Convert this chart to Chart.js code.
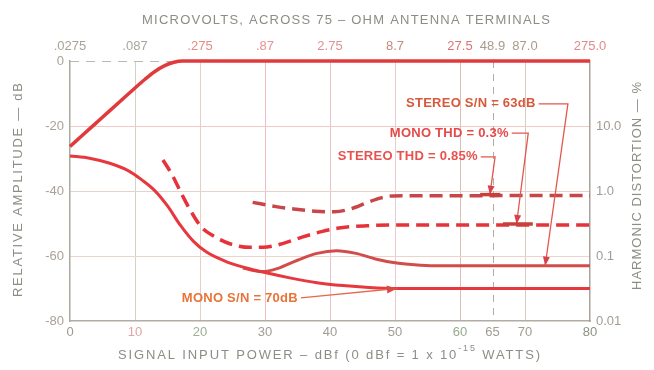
<!DOCTYPE html>
<html>
<head>
<meta charset="utf-8">
<script src="https://cdn.jsdelivr.net/npm/chart.js@4.4.1/dist/chart.umd.min.js"></script>
<style>
  html, body { margin: 0; padding: 0; background: #fff; }
  #wrap { width: 654px; height: 370px; }
</style>
</head>
<body>
<div id="wrap"><canvas id="c" width="654" height="370"></canvas></div>
<script>
// Signal input power in dBf (bottom) with the equivalent microvolt readings (top)
const powerTicks = [0, 10, 20, 30, 40, 50, 60, 65, 70, 80];
const microvoltLabels = ['.0275', '.087', '.275', '.87', '2.75', '8.7', '27.5', '48.9', '87.0', '275.0'];
const amplitudeTicks = [0, -20, -40, -60, -80];
const distortionTicks = [0.01, 0.1, 1, 10, 100];
const distortionLabels = ['0.01', '0.1', '1.0', '10.0', ''];

// Audio output, relative amplitude (dB)
const responseX = [0, 2, 4, 6, 8, 10, 11.5, 13, 14.5, 16, 17.3, 80];
const responseY = [-26.3, -22.7, -19.1, -15.5, -11.9, -8.3, -5.7, -3.3, -1.5, -0.4, 0, 0];

// Mono noise (dB)
const monoNoiseX = [0, 3, 6, 9, 11, 13, 15, 17, 19, 21, 24, 27, 30, 34, 38, 42, 46, 50, 80];
const monoNoiseY = [-29.2, -29.9, -31.4, -33.8, -36.5, -39.8, -44.6, -50.6, -55.5, -58.8, -61.7, -63.6, -65.1, -66.8, -68.2, -69.1, -69.7, -70, -70];

// Stereo noise (dB)
const stereoNoiseX = [26.6, 29.5, 32, 35, 38, 41, 44, 47, 50, 53, 56, 80];
const stereoNoiseY = [-63.7, -64.8, -63.8, -61.3, -59.2, -58.4, -59.2, -60.9, -62.1, -62.7, -63, -63];

// Mono harmonic distortion (%)
const monoThdX = [14.3, 15.7, 17.2, 18.7, 20.2, 22.2, 24.7, 27.7, 29.7, 32.7, 35.7, 38.7, 41.7, 45.7, 49.7, 80];
const monoThdY = [3.0, 1.78, 0.89, 0.47, 0.28, 0.2, 0.153, 0.136, 0.136, 0.155, 0.195, 0.237, 0.272, 0.292, 0.3, 0.3];

// Stereo harmonic distortion (%)
const stereoThdX = [28.1, 31.7, 34.7, 37.7, 40.7, 43.2, 45.7, 47.7, 49.7, 80];
const stereoThdY = [0.668, 0.575, 0.525, 0.49, 0.479, 0.531, 0.661, 0.776, 0.841, 0.85];

const FONT = '"Liberation Sans", Arial, sans-serif';
const bottomTickColors = ['#9c9a92', '#e0a4a4', '#9cb094', '#a29c92', '#a29c92', '#a29c92', '#98aa90', '#a29c92', '#a29c92', '#8c9282'];
const topTickColors = ['#aaa29a', '#a2aa9a', '#e88c82', '#e89292', '#e09292', '#c48a82', '#e07272', '#aa9a8a', '#aa9a8a', '#e08c8a'];
const vGridColors = ['transparent', '#d0d6c2', '#e6cfc6', '#f0bcc2', '#e4c6c4', '#ecccca', '#dcbeb6', 'transparent', '#dccbbe', 'transparent'];
const hGridColors = ['transparent', '#f0cac2', '#e2d4cc', '#ead4cc', 'transparent'];

const pts = (xs, ys) => xs.map((x, i) => ({ x, y: ys[i] }));

function spacedText(ctx, text, cx, cy, width) {
  ctx.letterSpacing = '0px';
  const w = ctx.measureText(text).width;
  const sp = (width - w) / (text.length - 1);
  ctx.letterSpacing = sp + 'px';
  ctx.textAlign = 'left';
  ctx.fillText(text, cx - width / 2, cy);
  ctx.letterSpacing = '0px';
}

function arrowHead(ctx, x0, y0, x1, y1, len, half) {
  const a = Math.atan2(y1 - y0, x1 - x0);
  const bx = x1 - len * Math.cos(a), by = y1 - len * Math.sin(a);
  ctx.beginPath();
  ctx.moveTo(x1, y1);
  ctx.lineTo(bx + half * Math.sin(a), by - half * Math.cos(a));
  ctx.lineTo(bx - half * Math.sin(a), by + half * Math.cos(a));
  ctx.closePath();
  ctx.fill();
}

// Dashed gridline at 65 dBf and the dashed top frame where no curve covers it
const framePlugin = {
  id: 'frame',
  beforeDatasetsDraw(chart) {
    const { ctx, chartArea: a, scales } = chart;
    ctx.save();
    ctx.strokeStyle = '#b4aca4';
    ctx.lineWidth = 1;
    ctx.setLineDash([7, 6]);
    const x65 = Math.round(scales.x.getPixelForValue(65)) + 0.5;
    ctx.beginPath(); ctx.moveTo(x65, a.top); ctx.lineTo(x65, a.bottom); ctx.stroke();
    ctx.strokeStyle = '#bdb6ae';
    ctx.setLineDash([9, 7]);
    ctx.beginPath(); ctx.moveTo(a.left, a.top + 0.5); ctx.lineTo(a.right, a.top + 0.5); ctx.stroke();
    ctx.restore();
  }
};

// Callouts naming each curve's limiting value
const calloutPlugin = {
  id: 'callouts',
  afterDatasetsDraw(chart) {
    const { ctx, scales } = chart;
    const X = v => scales.x.getPixelForValue(v);
    const Y = v => scales.y.getPixelForValue(v);
    const P = v => scales.y2.getPixelForValue(v);
    ctx.save();
    ctx.font = 'bold 13px ' + FONT;
    ctx.letterSpacing = '0.25px';
    ctx.textBaseline = 'middle';
    ctx.textAlign = 'left';

    const callout = (text, color, tx, ty, cornerX, tipX, tipY, bar) => {
      const x = X(tx), y = Y(ty);
      ctx.fillStyle = color;
      ctx.fillText(text, x, y);
      const w = ctx.measureText(text).width;
      ctx.strokeStyle = '#e2584e';
      ctx.lineWidth = 1.3;
      ctx.beginPath();
      ctx.moveTo(x + w + 3, y);
      ctx.lineTo(X(cornerX), y);
      ctx.lineTo(X(tipX), tipY);
      ctx.stroke();
      ctx.fillStyle = '#d8404a';
      arrowHead(ctx, X(cornerX), y, X(tipX), tipY, 9, 3.5);
      if (bar) {
        ctx.strokeStyle = '#c8403c';
        ctx.lineWidth = 3.5;
        ctx.beginPath(); ctx.moveTo(X(bar[0]), tipY); ctx.lineTo(X(bar[1]), tipY); ctx.stroke();
      }
    };

    callout('STEREO S/N = 63dB', '#d8583c', 51.7, -13.2, 76.6, 73.1, Y(-63), null);
    callout('MONO THD = 0.3%', '#e44a48', 49.2, -22.2, 70.5, 68.7, P(0.3) - 1, [66.6, 71.2]);
    callout('STEREO THD = 0.85%', '#e8524e', 41.2, -29.5, 65.4, 64.6, P(0.85) - 1, [63.1, 66.2]);

    // Mono S/N label with its diagonal leader
    const mx = X(17.2), my = Y(-72.9);
    ctx.fillStyle = '#e8743a';
    ctx.fillText('MONO S/N = 70dB', mx, my);
    const mw = ctx.measureText('MONO S/N = 70dB').width;
    ctx.strokeStyle = '#e46a50';
    ctx.lineWidth = 1.3;
    ctx.beginPath(); ctx.moveTo(mx + mw + 3, my); ctx.lineTo(X(50.3), Y(-70)); ctx.stroke();
    ctx.fillStyle = '#d84a44';
    arrowHead(ctx, mx + mw + 3, my, X(50.3), Y(-70), 10, 4);
    ctx.restore();
  }
};

// Axis titles
const titlePlugin = {
  id: 'titles',
  afterDraw(chart) {
    const { ctx } = chart;
    ctx.save();
    ctx.fillStyle = '#8e8c84';
    ctx.textBaseline = 'middle';
    ctx.font = '13px ' + FONT;
    spacedText(ctx, 'MICROVOLTS, ACROSS 75 – OHM ANTENNA TERMINALS', 346, 20, 408);

    // bottom title with a raised exponent
    const main1 = 'SIGNAL INPUT POWER – dBf (0 dBf = 1 x 10', sup = '-15', main2 = ' WATTS)';
    ctx.letterSpacing = '0px';
    ctx.font = '13px ' + FONT;
    const w1 = ctx.measureText(main1).width, w3 = ctx.measureText(main2).width;
    ctx.font = '9px ' + FONT;
    const w2 = ctx.measureText(sup).width;
    const nChars = main1.length + sup.length + main2.length;
    const target = 422;
    const sp = (target - (w1 + w2 + w3)) / (nChars - 1);
    let x = 329 - target / 2;
    ctx.textAlign = 'left';
    ctx.letterSpacing = sp + 'px';
    ctx.font = '13px ' + FONT;
    ctx.fillText(main1, x, 355);
    x += ctx.measureText(main1).width;
    ctx.font = '9px ' + FONT;
    ctx.fillText(sup, x, 349);
    x += ctx.measureText(sup).width;
    ctx.font = '13px ' + FONT;
    ctx.fillText(main2, x, 355);
    ctx.letterSpacing = '0px';

    ctx.save();
    ctx.translate(18, 190);
    ctx.rotate(-Math.PI / 2);
    spacedText(ctx, 'RELATIVE AMPLITUDE — dB', 0, 0, 214);
    ctx.restore();

    ctx.save();
    ctx.translate(637, 186);
    ctx.rotate(-Math.PI / 2);
    spacedText(ctx, 'HARMONIC DISTORTION — %', 0, 0, 208);
    ctx.restore();
    ctx.restore();
  }
};

const tickFont = { family: FONT, size: 13 };

new Chart(document.getElementById('c'), {
  type: 'line',
  data: {
    datasets: [
      { data: pts(responseX, responseY), yAxisID: 'y', borderColor: '#e03a3c', borderWidth: 3.5 },
      { data: pts(monoNoiseX, monoNoiseY), yAxisID: 'y', borderColor: '#e6383e', borderWidth: 3 },
      { data: pts(stereoNoiseX, stereoNoiseY), yAxisID: 'y', borderColor: '#d24c4a', borderWidth: 3 },
      { data: pts(monoThdX, monoThdY), yAxisID: 'y2', borderColor: '#e6323a', borderWidth: 3.5, borderDash: [13, 7] },
      { data: pts(stereoThdX, stereoThdY), yAxisID: 'y2', borderColor: '#c84648', borderWidth: 3.5, borderDash: [13, 7] }
    ]
  },
  options: {
    responsive: false,
    animation: false,
    layout: { padding: 0 },
    plugins: { legend: { display: false }, tooltip: { enabled: false } },
    elements: {
      point: { radius: 0 },
      line: { cubicInterpolationMode: 'monotone', fill: false }
    },
    datasets: { line: { clip: 8 } },
    scales: {
      x: {
        type: 'linear', position: 'bottom', min: 0, max: 80,
        afterBuildTicks: s => { s.ticks = powerTicks.map(v => ({ value: v })); },
        afterFit: s => { s.height = 49; },
        ticks: {
          autoSkip: false, maxRotation: 0, padding: 4, font: tickFont,
          color: c => bottomTickColors[c.index],
          callback: v => String(v)
        },
        grid: { drawTicks: false, lineWidth: 1, color: c => vGridColors[c.index] || 'transparent' },
        border: { color: '#b2aca4', width: 1.5 }
      },
      x2: {
        type: 'linear', position: 'top', min: 0, max: 80,
        afterBuildTicks: s => { s.ticks = powerTicks.map(v => ({ value: v })); },
        afterFit: s => { s.height = 61; },
        ticks: {
          autoSkip: false, maxRotation: 0, padding: 7, font: tickFont,
          color: c => topTickColors[c.index],
          callback: (v, i) => microvoltLabels[i]
        },
        grid: { display: false, drawTicks: false },
        border: { display: false }
      },
      y: {
        type: 'linear', position: 'left', min: -80, max: 0,
        afterBuildTicks: s => { s.ticks = amplitudeTicks.map(v => ({ value: v })); },
        afterFit: s => { s.width = 70; },
        ticks: { padding: 6, font: tickFont, color: '#a8a29a', callback: v => String(v) },
        grid: {
          drawTicks: false, lineWidth: 1,
          color: c => hGridColors[amplitudeTicks.indexOf(c.tick ? c.tick.value : 0)] || 'transparent'
        },
        border: { color: '#a8aa9c', width: 1.5 }
      },
      y2: {
        type: 'logarithmic', position: 'right', min: 0.01, max: 100,
        afterBuildTicks: s => { s.ticks = distortionTicks.map(v => ({ value: v })); },
        afterFit: s => { s.width = 64; },
        ticks: { padding: 6, font: tickFont, color: '#a49c94', callback: (v, i) => distortionLabels[i] },
        grid: { display: false, drawTicks: false },
        border: { color: '#aaa29a', width: 1.5 }
      }
    }
  },
  plugins: [framePlugin, calloutPlugin, titlePlugin]
});
</script>
</body>
</html>
